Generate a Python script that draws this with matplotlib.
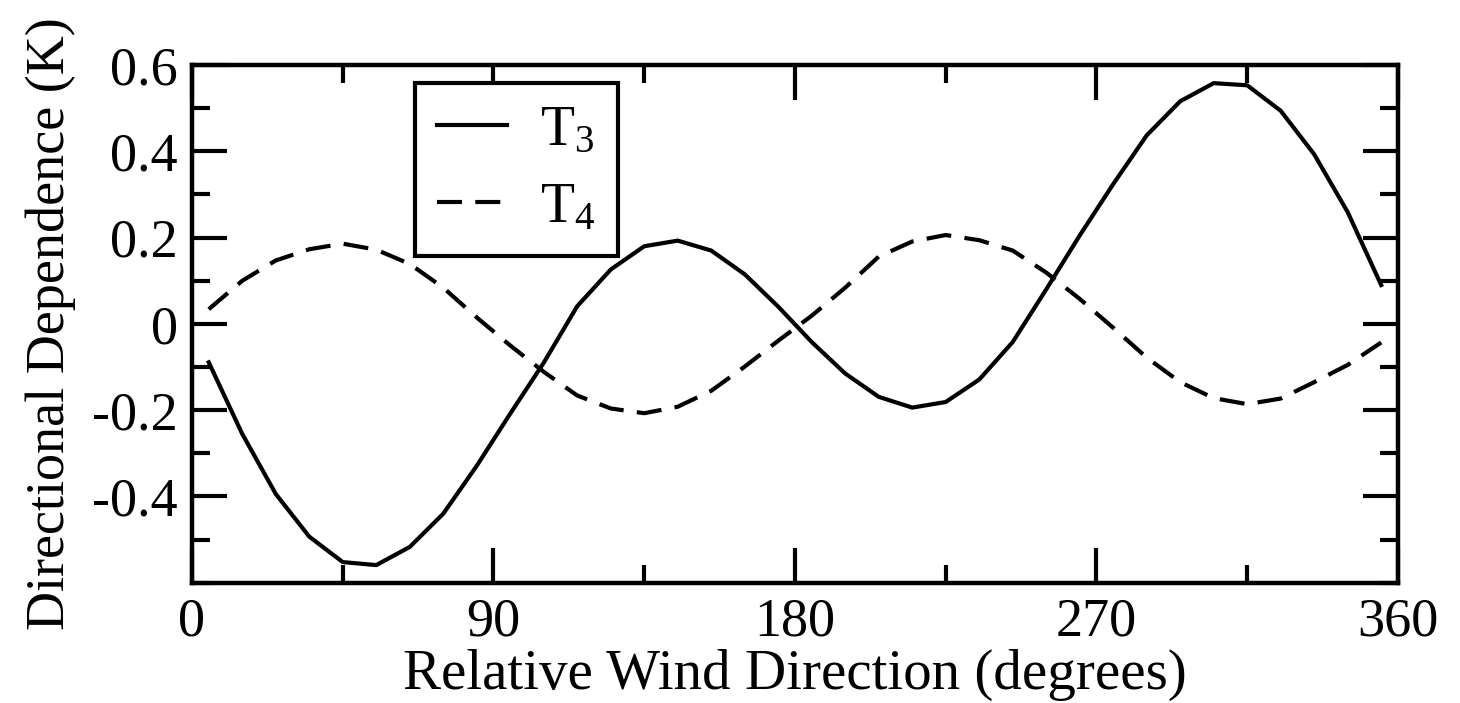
import numpy as np
import matplotlib
matplotlib.use("Agg")
import matplotlib.pyplot as plt
from matplotlib.ticker import MultipleLocator

# data
direction = [5, 15, 25, 35, 45, 55, 65, 75, 85, 95, 105, 115, 125, 135, 145, 155, 165, 175,
             185, 195, 205, 215, 225, 235, 245, 255, 265, 275, 285, 295, 305, 315, 325, 335, 345, 355]
t3 = [-0.089, -0.255, -0.394, -0.493, -0.552, -0.559, -0.517, -0.440, -0.329, -0.208, -0.090, 0.041,
      0.126, 0.180, 0.193, 0.170, 0.115, 0.040, -0.042, -0.115, -0.169, -0.194, -0.181, -0.129,
      -0.042, 0.080, 0.205, 0.324, 0.437, 0.516, 0.558, 0.553, 0.494, 0.393, 0.259, 0.090]
t4 = [0.034, 0.100, 0.147, 0.173, 0.186, 0.172, 0.139, 0.084, 0.015, -0.050, -0.111, -0.166,
      -0.196, -0.207, -0.192, -0.155, -0.099, -0.039, 0.019, 0.084, 0.156, 0.191, 0.206, 0.194,
      0.170, 0.119, 0.058, -0.009, -0.078, -0.135, -0.172, -0.186, -0.173, -0.135, -0.095, -0.043]

ytick_vals = [-0.4, -0.2, 0, 0.2, 0.4, 0.6]
ytick_labels = ['-0.4', '-0.2', '0', '0.2', '0.4', '0.6']
xtick_vals = [0, 90, 180, 270, 360]

plt.rcParams['font.family'] = ['Liberation Serif', 'DejaVu Serif']
plt.rcParams['mathtext.fontset'] = 'custom'
plt.rcParams['mathtext.rm'] = 'Liberation Serif'
plt.rcParams['mathtext.it'] = 'Liberation Serif'
plt.rcParams['axes.unicode_minus'] = False

fig = plt.figure(figsize=(14.6, 7.03), dpi=100)
ax = fig.add_axes([0.1315, 0.171, 0.826, 0.7365])

ax.plot(direction, t3, color='black', lw=3.0, label='T$_3$')
ax.plot(direction, t4, color='black', lw=3.0, dashes=(6, 3.2), label='T$_4$')

ax.set_xlim(0, 360)
ax.set_ylim(-0.6, 0.6)
ax.set_xticks(xtick_vals)
ax.set_yticks(ytick_vals)
ax.set_yticklabels(ytick_labels)
ax.xaxis.set_minor_locator(MultipleLocator(45))
ax.yaxis.set_minor_locator(MultipleLocator(0.1))

ax.tick_params(which='both', direction='in', top=True, right=True, width=3,
               labelsize=39, colors='black')
ax.tick_params(which='major', length=25, pad=10)
ax.tick_params(which='minor', length=13)
for s in ax.spines.values():
    s.set_linewidth(3.2)

ax.set_xlabel('Relative Wind Direction (degrees)', fontsize=41, labelpad=1)
ax.set_ylabel('Directional Dependence (K)', fontsize=39, labelpad=12)

leg = ax.legend(loc='upper left', bbox_to_anchor=(0.185, 0.966), fontsize=40,
                frameon=True, fancybox=False, edgecolor='black', framealpha=1,
                handlelength=1.25, handletextpad=0.6, borderpad=0.4,
                labelspacing=0.45, borderaxespad=0)
leg.get_frame().set_linewidth(3)

plt.savefig('out.png', dpi=100)
